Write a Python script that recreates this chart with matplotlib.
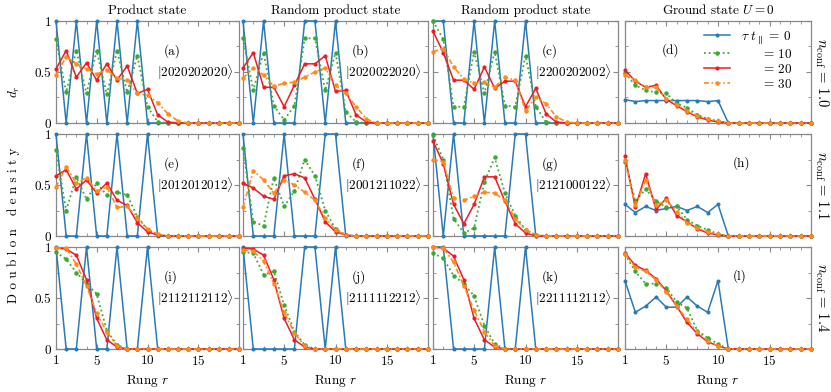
import numpy as np
import matplotlib
matplotlib.use('Agg')
import matplotlib.pyplot as plt
from matplotlib.ticker import MultipleLocator

plt.rcParams['font.family'] = 'serif'
plt.rcParams['font.serif'] = ['cmr10', 'DejaVu Serif']
plt.rcParams['mathtext.fontset'] = 'cm'
plt.rcParams['axes.formatter.use_mathtext'] = True
plt.rcParams['font.size'] = 9.5

rungs = np.arange(1, 20)

titles = ['Product state', 'Random product state', 'Random product state', r'Ground state $U=0$']
nconf = ['1.0', '1.1', '1.4']
letters = 'abcdefghijkl'
kets = ['2020202020', '2020022020', '2200202002', None,
        '2012012012', '2001211022', '2121000122', None,
        '2112112112', '2111112212', '2211112112', None]
taus = ['0', '10', '20', '30']


def pad(v):
    return list(v) + [0.0] * (19 - len(v))


# tau t = 0
blue = [
    pad([1, 0, 1, 0, 1, 0, 1, 0, 1, 0]),
    pad([1, 0, 1, 0, 0, 0, 1, 1, 0, 1]),
    pad([1, 1, 0, 0, 1, 0, 1, 0, 0, 1]),
    pad([0.23, 0.21, 0.22, 0.22, 0.22, 0.22, 0.22, 0.22, 0.21, 0.22]),
    pad([1, 0, 0, 1, 0, 0, 1, 0, 0, 1]),
    pad([1, 0, 0, 0, 1, 0, 0, 0, 1, 1]),
    pad([1, 0, 1, 0, 0, 0, 0, 0, 1, 1]),
    pad([0.31, 0.23, 0.29, 0.25, 0.27, 0.29, 0.25, 0.29, 0.23, 0.31]),
    pad([1, 0, 0, 1, 0, 0, 1, 0, 0, 1]),
    pad([1, 0, 0, 0, 0, 0, 1, 1, 0, 1]),
    pad([1, 1, 0, 0, 0, 0, 1, 0, 0, 1]),
    pad([0.67, 0.36, 0.42, 0.51, 0.41, 0.41, 0.51, 0.42, 0.36, 0.67]),
]

# tau t = 10
green = [
    pad([0.82, 0.30, 0.71, 0.29, 0.71, 0.28, 0.71, 0.30, 0.66, 0.16, 0.01]),
    pad([0.83, 0.32, 0.69, 0.17, 0.03, 0.17, 0.83, 0.83, 0.32, 0.69, 0.11, 0.01]),
    pad([1.0, 0.82, 0.16, 0.16, 0.70, 0.29, 0.70, 0.17, 0.16, 0.66, 0.16, 0.01]),
    pad([0.49, 0.37, 0.32, 0.30, 0.29, 0.19, 0.15, 0.08, 0.04, 0.02]),
    pad([0.84, 0.25, 0.58, 0.36, 0.52, 0.40, 0.43, 0.40, 0.19, 0.06, 0.01]),
    pad([0.86, 0.14, 0.10, 0.57, 0.29, 0.44, 0.75, 0.59, 0.25, 0.07, 0.01]),
    pad([0.99, 0.75, 0.17, 0.03, 0.08, 0.53, 0.77, 0.42, 0.20, 0.06, 0.01]),
    pad([0.73, 0.34, 0.46, 0.34, 0.28, 0.29, 0.16, 0.10, 0.06, 0.02]),
    pad([0.95, 0.88, 0.75, 0.64, 0.54, 0.18, 0.04]),
    pad([0.95, 0.94, 0.73, 0.76, 0.43, 0.17, 0.04]),
    pad([0.94, 0.89, 0.72, 0.64, 0.52, 0.23, 0.05]),
    pad([0.93, 0.76, 0.64, 0.64, 0.60, 0.46, 0.40, 0.18, 0.11, 0.05]),
]

# tau t = 20
red = [
    pad([0.53, 0.71, 0.45, 0.59, 0.42, 0.58, 0.42, 0.56, 0.29, 0.33, 0.08, 0.01]),
    pad([0.54, 0.69, 0.35, 0.35, 0.16, 0.37, 0.58, 0.58, 0.66, 0.31, 0.32, 0.08, 0.01]),
    pad([0.90, 0.69, 0.42, 0.42, 0.33, 0.55, 0.34, 0.41, 0.41, 0.16, 0.34, 0.09, 0.01]),
    pad([0.52, 0.41, 0.35, 0.37, 0.23, 0.17, 0.11, 0.06, 0.03, 0.01]),
    pad([0.59, 0.65, 0.46, 0.55, 0.42, 0.52, 0.35, 0.30, 0.13, 0.04, 0.01]),
    pad([0.52, 0.47, 0.39, 0.36, 0.59, 0.61, 0.57, 0.36, 0.14, 0.04, 0.01]),
    pad([0.93, 0.71, 0.31, 0.12, 0.31, 0.58, 0.58, 0.34, 0.12, 0.03]),
    pad([0.78, 0.28, 0.61, 0.26, 0.37, 0.20, 0.14, 0.07, 0.03, 0.01]),
    pad([0.99, 0.98, 0.92, 0.68, 0.30, 0.09, 0.02]),
    pad([0.99, 0.98, 0.92, 0.68, 0.30, 0.09, 0.02]),
    pad([1.0, 0.99, 0.91, 0.68, 0.30, 0.09, 0.02]),
    pad([0.94, 0.82, 0.77, 0.69, 0.57, 0.42, 0.26, 0.15, 0.07, 0.03]),
]

# tau t = 30
orange = [
    pad([0.47, 0.65, 0.58, 0.53, 0.48, 0.52, 0.44, 0.42, 0.29, 0.27, 0.20, 0.09, 0.02]),
    pad([0.44, 0.54, 0.47, 0.36, 0.39, 0.40, 0.45, 0.50, 0.54, 0.37, 0.29, 0.16, 0.04]),
    pad([0.70, 0.73, 0.55, 0.43, 0.39, 0.40, 0.35, 0.45, 0.42, 0.12, 0.25, 0.19, 0.06, 0.01]),
    pad([0.47, 0.42, 0.35, 0.35, 0.24, 0.18, 0.12, 0.07, 0.04, 0.02]),
    pad([0.48, 0.68, 0.52, 0.57, 0.44, 0.48, 0.28, 0.29, 0.18, 0.07, 0.02]),
    pad([0.28, 0.64, 0.55, 0.42, 0.55, 0.50, 0.43, 0.35, 0.18, 0.06, 0.01]),
    pad([0.75, 0.73, 0.37, 0.35, 0.39, 0.43, 0.42, 0.35, 0.17, 0.06, 0.01]),
    pad([0.75, 0.30, 0.55, 0.30, 0.35, 0.24, 0.13, 0.08, 0.04, 0.02]),
    pad([0.99, 0.99, 0.83, 0.62, 0.35, 0.17, 0.03]),
    pad([0.97, 0.96, 0.86, 0.64, 0.36, 0.16, 0.03]),
    pad([1.0, 0.99, 0.85, 0.62, 0.38, 0.17, 0.03]),
    pad([0.93, 0.80, 0.76, 0.68, 0.56, 0.42, 0.29, 0.17, 0.08, 0.03]),
]

c_blue = '#2a7ab8'
c_green = '#3aaa35'
c_red = '#ee1c25'
c_orange = '#ff8a1c'

W, H = 831, 392
fig = plt.figure(figsize=(W / 100, H / 100), dpi=100)

lefts = [56, 243, 433, 625]
widths = [183, 185, 185, 186]
tops = [21, 134, 247]
ph = 102

for row in range(3):
    for col in range(4):
        k = row * 4 + col
        ax = fig.add_axes([lefts[col] / W, 1 - (tops[row] + ph) / H, widths[col] / W, ph / H])
        ax.plot(rungs, blue[k], '-', color=c_blue, lw=1.1, marker='o', ms=1.9, clip_on=False, zorder=3)
        ax.plot(rungs, green[k], color=c_green, lw=1.3, ls=(0, (1, 1.6)), marker='o', ms=2.2,
                clip_on=False, zorder=3)
        ax.plot(rungs, red[k], '-', color=c_red, lw=1.1, marker='o', ms=2.0, clip_on=False, zorder=3)
        ax.plot(rungs, orange[k], color=c_orange, lw=1.2, ls=(0, (3, 1.5, 1, 1.5)), marker='o', ms=2.2,
                clip_on=False, zorder=3)
        ax.set_xlim(1, 19)
        ax.set_ylim(0, 1)
        ax.set_xticks([1, 5, 10, 15])
        ax.xaxis.set_minor_locator(MultipleLocator(1))
        ax.set_yticks([0, 0.5, 1])
        ax.set_yticklabels(['0', '0.5', '1'])
        ax.yaxis.set_minor_locator(MultipleLocator(0.25))
        ax.tick_params(which='both', direction='in', top=True, right=True, color='#888888')
        ax.tick_params(which='major', length=3.5)
        ax.tick_params(which='minor', length=2)
        for s in ax.spines.values():
            s.set_color('#888888')
            s.set_linewidth(0.9)
        if col > 0:
            ax.set_yticklabels([])
        if row < 2:
            ax.set_xticklabels([])
        else:
            ax.set_xlabel(r'Rung $r$', labelpad=4)
        if row == 0:
            ax.set_title(titles[col], fontsize=9.5, pad=5)
        if col == 3:
            ax.yaxis.set_label_position('right')
            ax.set_ylabel(r'$n_{\rm conf}\, =\, %s$' % nconf[row], rotation=270, labelpad=14,
                          fontsize=10.5)
            ax.text(0.58 if row else 0.20, 0.71, '(%s)' % letters[k], transform=ax.transAxes,
                    ha='left', va='center')
        else:
            ax.text(0.59, 0.70, '(%s)' % letters[k], transform=ax.transAxes, ha='left', va='center')
            ax.text(0.55, 0.50, r'$|\mathrm{%s}\rangle$' % kets[k], transform=ax.transAxes,
                    ha='left', va='center')
        if k == 3:
            labels = [r'$\tau\ t_\parallel\, =\, 0$'] + [r'$\quad\;\;\,=\, %s$' % t for t in taus[1:]]
            ax.legend(ax.lines, labels, loc='upper right', bbox_to_anchor=(0.94, 1.0),
                      frameon=False, fontsize=9.5, handlelength=2.0, handletextpad=0.8,
                      labelspacing=0.15, borderaxespad=0.2)

fig.text(14 / W, 1 - 92 / H, r'$d_r$', rotation=90, ha='center', va='center')
fig.text(14 / W, 1 - 225 / H, 'D o u b l o n   d e n s i t y', rotation=90, ha='center', va='center')

fig.savefig('out.png', dpi=100)
